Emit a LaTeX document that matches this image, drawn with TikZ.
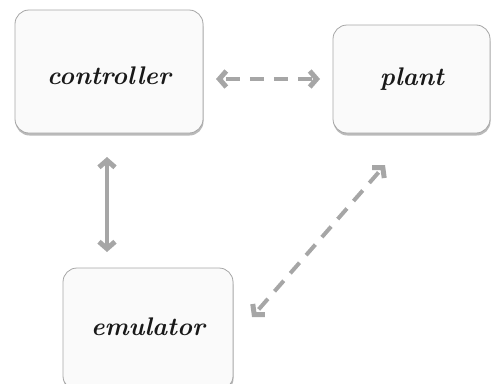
\documentclass[tikz,border=0pt]{standalone}
\usetikzlibrary{arrows.meta,shadows}
\begin{document}
\begin{tikzpicture}[x=1pt,y=-1pt,
  box/.style={draw=gray!70, line width=0.8pt, rounded corners=14pt, fill=gray!4,
    drop shadow={shadow xshift=0.5pt, shadow yshift=-2.5pt, opacity=0.45, fill=gray!80!black}},
  lbl/.style={font=\fontsize{25.5}{28}\selectfont\bfseries\itshape, text=black!90},
  link/.style={draw=gray!70, line width=4pt, {Straight Barb[length=7pt,width=16pt,line width=5pt]}-{Straight Barb[length=7pt,width=16pt,line width=5pt]}},
  dashlink/.style={link, dash pattern=on 14pt off 10pt, dash phase=-4pt}
]
\useasboundingbox (0,0) rectangle (495,383);
\path[box] (15,10) rectangle (203,133);
\node[lbl] (controller) at (109,76) {controller};
\path[box] (333,25) rectangle (490,133);
\node[lbl] (plant) at (412,79) {plant};
\path[box] (63,268) rectangle (233,390);
\node[lbl] (emulator) at (148,327) {emulator};
\coordinate (h1) at (216,79);
\coordinate (h2) at (320,79);
\coordinate (v1) at (107,157);
\coordinate (v2) at (107,252);
\coordinate (d1) at (385,165);
\coordinate (d2) at (252,317);
\draw[dashlink] (h1) -- (h2);
\draw[link] (v1) -- (v2);
\draw[dashlink] (d1) -- (d2);
\end{tikzpicture}
\end{document}
